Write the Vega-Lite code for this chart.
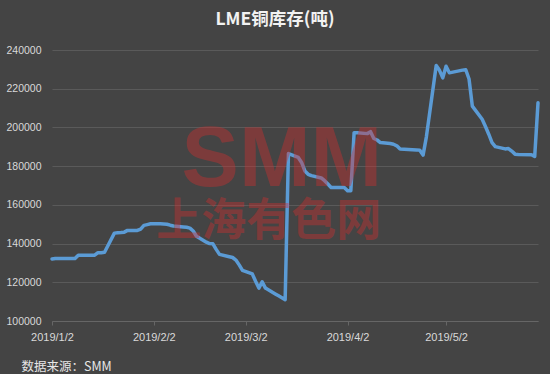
{
  "$schema": "https://vega.github.io/schema/vega-lite/v6.json",
  "autosize": "none",
  "width": 486,
  "height": 271,
  "padding": {"left": 52, "top": 50, "right": 12, "bottom": 53},
  "background": "#444444",
  "config": {
    "view": {"stroke": null},
    "font": "Liberation Sans"
  },
  "title": {
    "text": "LME铜库存(吨)",
    "font": "Noto Sans CJK SC",
    "fontSize": 17.5,
    "fontWeight": "bold",
    "color": "#f2f2f2",
    "anchor": "middle",
    "frame": "group",
    "dx": -20,
    "offset": 17
  },
  "data": {
    "values": [
      {"date": "2019/01/02", "stock": 132000},
      {"date": "2019/01/03", "stock": 132300},
      {"date": "2019/01/04", "stock": 132300},
      {"date": "2019/01/07", "stock": 132300},
      {"date": "2019/01/08", "stock": 132300},
      {"date": "2019/01/09", "stock": 132300},
      {"date": "2019/01/10", "stock": 134000},
      {"date": "2019/01/11", "stock": 134000},
      {"date": "2019/01/14", "stock": 134000},
      {"date": "2019/01/15", "stock": 134000},
      {"date": "2019/01/16", "stock": 135300},
      {"date": "2019/01/17", "stock": 135300},
      {"date": "2019/01/18", "stock": 135500},
      {"date": "2019/01/21", "stock": 145400},
      {"date": "2019/01/22", "stock": 145600},
      {"date": "2019/01/23", "stock": 145700},
      {"date": "2019/01/24", "stock": 145900},
      {"date": "2019/01/25", "stock": 146800},
      {"date": "2019/01/28", "stock": 146800},
      {"date": "2019/01/29", "stock": 147500},
      {"date": "2019/01/30", "stock": 149400},
      {"date": "2019/01/31", "stock": 149800},
      {"date": "2019/02/01", "stock": 150200},
      {"date": "2019/02/04", "stock": 150200},
      {"date": "2019/02/05", "stock": 150100},
      {"date": "2019/02/06", "stock": 150000},
      {"date": "2019/02/07", "stock": 149500},
      {"date": "2019/02/08", "stock": 149100},
      {"date": "2019/02/11", "stock": 148600},
      {"date": "2019/02/12", "stock": 148400},
      {"date": "2019/02/13", "stock": 148000},
      {"date": "2019/02/14", "stock": 146500},
      {"date": "2019/02/15", "stock": 143800},
      {"date": "2019/02/18", "stock": 140700},
      {"date": "2019/02/19", "stock": 140000},
      {"date": "2019/02/20", "stock": 139900},
      {"date": "2019/02/21", "stock": 137000},
      {"date": "2019/02/22", "stock": 134400},
      {"date": "2019/02/25", "stock": 133200},
      {"date": "2019/02/26", "stock": 132800},
      {"date": "2019/02/27", "stock": 131500},
      {"date": "2019/02/28", "stock": 129000},
      {"date": "2019/03/01", "stock": 126200},
      {"date": "2019/03/04", "stock": 124300},
      {"date": "2019/03/05", "stock": 120500},
      {"date": "2019/03/06", "stock": 117000},
      {"date": "2019/03/07", "stock": 120200},
      {"date": "2019/03/08", "stock": 117000},
      {"date": "2019/03/11", "stock": 114000},
      {"date": "2019/03/12", "stock": 113000},
      {"date": "2019/03/13", "stock": 112000},
      {"date": "2019/03/14", "stock": 111000},
      {"date": "2019/03/15", "stock": 186500},
      {"date": "2019/03/18", "stock": 184500},
      {"date": "2019/03/19", "stock": 181900},
      {"date": "2019/03/20", "stock": 177500},
      {"date": "2019/03/21", "stock": 175800},
      {"date": "2019/03/22", "stock": 175100},
      {"date": "2019/03/25", "stock": 173900},
      {"date": "2019/03/26", "stock": 172500},
      {"date": "2019/03/27", "stock": 170800},
      {"date": "2019/03/28", "stock": 169000},
      {"date": "2019/03/29", "stock": 169000},
      {"date": "2019/04/01", "stock": 169000},
      {"date": "2019/04/02", "stock": 167300},
      {"date": "2019/04/03", "stock": 167300},
      {"date": "2019/04/04", "stock": 197300},
      {"date": "2019/04/05", "stock": 197200},
      {"date": "2019/04/08", "stock": 196800},
      {"date": "2019/04/09", "stock": 197800},
      {"date": "2019/04/10", "stock": 194300},
      {"date": "2019/04/11", "stock": 193500},
      {"date": "2019/04/12", "stock": 192200},
      {"date": "2019/04/15", "stock": 191700},
      {"date": "2019/04/16", "stock": 191300},
      {"date": "2019/04/17", "stock": 190500},
      {"date": "2019/04/18", "stock": 188800},
      {"date": "2019/04/23", "stock": 188400},
      {"date": "2019/04/24", "stock": 188200},
      {"date": "2019/04/25", "stock": 185700},
      {"date": "2019/04/26", "stock": 195000},
      {"date": "2019/04/29", "stock": 232000},
      {"date": "2019/04/30", "stock": 229500},
      {"date": "2019/05/01", "stock": 225600},
      {"date": "2019/05/02", "stock": 231600},
      {"date": "2019/05/03", "stock": 228200},
      {"date": "2019/05/07", "stock": 229600},
      {"date": "2019/05/08", "stock": 229800},
      {"date": "2019/05/09", "stock": 225000},
      {"date": "2019/05/10", "stock": 211000},
      {"date": "2019/05/13", "stock": 204200},
      {"date": "2019/05/14", "stock": 200500},
      {"date": "2019/05/15", "stock": 196500},
      {"date": "2019/05/16", "stock": 192200},
      {"date": "2019/05/17", "stock": 190100},
      {"date": "2019/05/20", "stock": 188900},
      {"date": "2019/05/21", "stock": 189100},
      {"date": "2019/05/22", "stock": 187800},
      {"date": "2019/05/23", "stock": 186200},
      {"date": "2019/05/24", "stock": 186000},
      {"date": "2019/05/28", "stock": 185900},
      {"date": "2019/05/29", "stock": 185000},
      {"date": "2019/05/30", "stock": 212700}
    ]
  },
  "encoding": {
    "x": {
      "type": "temporal",
      "scale": {"domain": [{"year": 2019, "month": 1, "date": 2}, {"year": 2019, "month": 5, "date": 30}]},
      "axis": {
        "values": [
          {"year": 2019, "month": 1, "date": 2},
          {"year": 2019, "month": 2, "date": 2},
          {"year": 2019, "month": 3, "date": 2},
          {"year": 2019, "month": 4, "date": 2},
          {"year": 2019, "month": 5, "date": 2}
        ],
        "format": "%Y/%-m/%-d",
        "grid": false,
        "domainColor": "#666666",
        "tickColor": "#666666",
        "tickSize": 4,
        "labelColor": "#d9d9d9",
        "labelFontSize": 11,
        "labelPadding": 6,
        "labelFlush": false,
        "labelOverlap": false,
        "title": "数据来源：SMM",
        "titleFont": "Noto Sans CJK SC",
        "titleFontSize": 12.5,
        "titleFontWeight": "normal",
        "titleColor": "#e6e6e6",
        "titleAnchor": "start",
        "titleAlign": "left",
        "titleBaseline": "middle",
        "titleX": -31,
        "titleY": 45
      }
    },
    "y": {
      "type": "quantitative",
      "scale": {"domain": [100000, 240000], "nice": false, "zero": false},
      "axis": {
        "tickCount": 8,
        "tickMinStep": 20000,
        "format": "d",
        "domain": false,
        "ticks": false,
        "labelOverlap": false,
        "labelBound": false,
        "labelFlush": false,
        "labelPadding": 11,
        "labelColor": "#d9d9d9",
        "labelFontSize": 10.5,
        "gridColor": "#5a5a5a",
        "gridWidth": 1,
        "title": null
      }
    }
  },
  "layer": [
    {
      "mark": {"type": "line", "color": "#5b9bd5", "strokeWidth": 3.5, "strokeJoin": "round", "strokeCap": "round"},
      "encoding": {
        "x": {"field": "date"},
        "y": {"field": "stock"}
      }
    },
    {
      "data": {"values": [{}]},
      "mark": {"type": "text", "text": "SMM", "font": "Liberation Sans", "fontWeight": "bold", "fontSize": 86, "color": "#d03030", "opacity": 0.4, "baseline": "middle", "align": "center"},
      "encoding": {
        "x": {"datum": {"year": 2019, "month": 3, "date": 13}},
        "y": {"datum": 183000}
      }
    },
    {
      "data": {"values": [{}]},
      "mark": {"type": "text", "text": "上海有色网", "font": "Noto Sans CJK SC", "fontWeight": "bold", "fontSize": 45, "color": "#d03030", "opacity": 0.4, "baseline": "middle", "align": "center"},
      "encoding": {
        "x": {"datum": {"year": 2019, "month": 3, "date": 9}},
        "y": {"datum": 150900}
      }
    }
  ]
}
